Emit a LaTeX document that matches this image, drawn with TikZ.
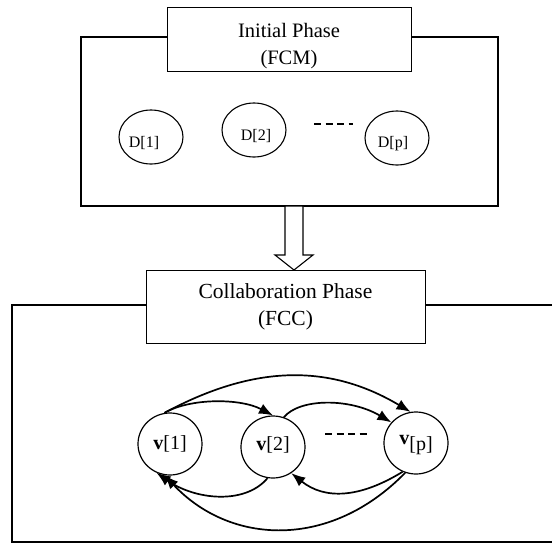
\documentclass[tikz,border=0pt]{standalone}
\usepackage{fontspec}
\setmainfont{Liberation Serif}
\usetikzlibrary{arrows.meta,shapes.geometric}
\begin{document}
\begin{tikzpicture}[x=1pt,y=-1pt,
  framepath/.style={line width=1.1pt},
  phasebox/.style={draw,line width=1pt,fill=white,inner sep=0pt},
  phasetext/.style={anchor=base,inner sep=0pt},
  dnode/.style={draw,ellipse,line width=1.1pt,minimum width=64pt,minimum height=54pt,inner sep=0pt},
  dtext/.style={font=\fontsize{16}{19}\selectfont,inner sep=0pt},
  vnode/.style={draw,ellipse,line width=1.2pt,minimum width=64pt,minimum height=62pt,inner sep=0pt},
  vtext/.style={font=\fontsize{20}{24}\selectfont,inner sep=0pt},
  link/.style={line width=1.7pt,-{Latex[length=14pt,width=11pt]}},
  dots/.style={line width=1.8pt,dash pattern=on 7pt off 4.5pt},
  blockarrow/.style={line width=1.1pt,fill=white,line join=miter}]

\useasboundingbox (0,0) rectangle (552,544);

% ---- initial phase ----
\draw[framepath] (81,37) rectangle (498,206);
\node[phasebox,minimum width=244pt,minimum height=64pt] (fcm) at (289,39) {};
\node[phasetext,font=\fontsize{20.5}{24}\selectfont] (fcmA) at (289,37) {Initial Phase};
\node[phasetext,font=\fontsize{20.5}{24}\selectfont] (fcmB) at (289,64) {(FCM)};

\node[dnode] (d1) at (151,137) {};
\node[dnode] (d2) at (254,130) {};
\node[dnode] (dp) at (397,138) {};
\node[dtext,xshift=-7pt,yshift=-6pt] (d1t) at (d1) {D[1]};
\node[dtext,xshift=2pt,yshift=-6pt] (d2t) at (d2) {D[2]};
\node[dtext,xshift=-4pt,yshift=-6pt] (dpt) at (dp) {D[p]};
\coordinate (ddotA) at (314,124);
\coordinate (ddotB) at (353,124);
\draw[dots] (ddotA) -- (ddotB);

% ---- collaboration phase ----
\draw[framepath] (552,305) -- (12,305) -- (12,542) -- (552,542);
\node[phasebox,minimum width=279pt,minimum height=73pt] (fcc) at (285.5,306.5) {};
\node[phasetext,font=\fontsize{21.5}{24}\selectfont] (fccA) at (285.5,298) {Collaboration Phase};
\node[phasetext,font=\fontsize{21.5}{24}\selectfont] (fccB) at (285.5,325) {(FCC)};

% hollow arrow between the phases
\draw[blockarrow] (285,206) -- (285,255) -- (275,255) -- (294,270)
  -- (313,255) -- (303,255) -- (303,206) -- cycle;

\node[vnode] (v1) at (170,444) {};
\node[vnode] (v2) at (273,447) {};
\node[vnode] (vp) at (416,443) {};
\node[vtext] (v1t) at (v1) {\textbf{v}[1]};
\node[vtext,yshift=2.5pt] (v2t) at (v2) {\textbf{v}[2]};
\node[vtext,yshift=-1.7pt] (vpt) at (vp) {\textbf{v}\raisebox{-6pt}{[p]}};
\coordinate (vdotA) at (325,434);
\coordinate (vdotB) at (367,434);
\draw[dots] (vdotA) -- (vdotB);

% forward links
\draw[link] (v1.100) .. controls (190,398) and (240,398) .. (v2.90);
\draw[link] (v1.100) .. controls (255,364) and (330,364) .. (vp.100);
\draw[link] (v2.70) .. controls (300,398) and (350,398) .. (vp.140);
% backward links
\draw[link] (v2.-100) .. controls (245,505) and (195,500) .. (v1.-115);
\draw[link] (vp.-115) .. controls (360,498) and (325,500) .. (v2.-55);
\draw[link] (vp.-110) .. controls (330,550) and (230,545) .. (v1.-100);
\end{tikzpicture}
\end{document}
